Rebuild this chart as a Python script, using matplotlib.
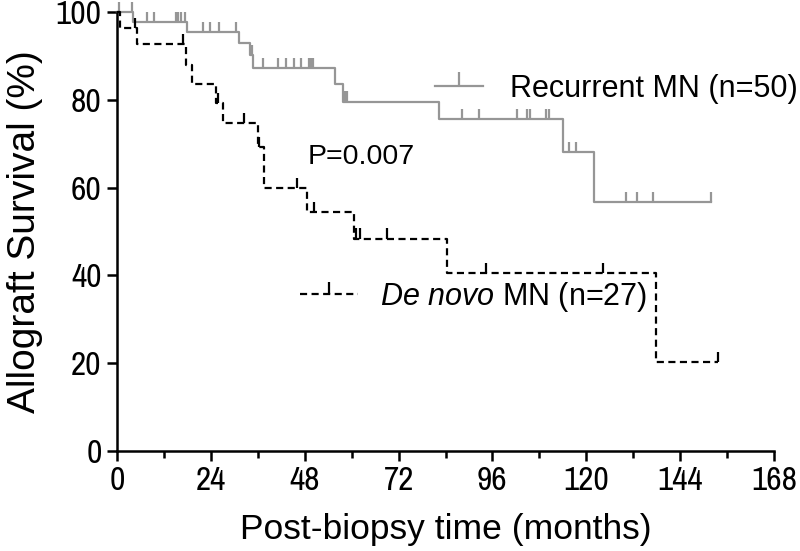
import numpy as np
import matplotlib
matplotlib.use("Agg")
import matplotlib.pyplot as plt
from matplotlib.lines import Line2D
from matplotlib.path import Path

plt.rcParams["font.family"] = ["Liberation Sans", "DejaVu Sans"]
plt.rcParams["mathtext.fontset"] = "custom"
plt.rcParams["mathtext.it"] = "Liberation Sans:italic"
plt.rcParams["mathtext.rm"] = "Liberation Sans"
narrow = ["Archivo Narrow", "Liberation Sans Narrow", "Liberation Sans"]

# Recurrent MN (n=50): event times (months) and survival (%) after each step
rec_times = [4.2, 17.8, 31.2, 34.0, 34.9, 55.8, 57.8, 82.4, 114.0, 122.0]
rec_levels = [97.8, 95.5, 92.9, 90.2, 87.2, 83.5, 79.6, 75.6, 68.1, 56.8]
rec_end = 152.0
rec_censor = [0.5, 3.8, 7.6, 9.5, 15.2, 15.7, 16.3, 17.5, 22.1, 23.9, 26.0, 30.4,
              34.4, 37.3, 41.2, 43.1, 45.3, 47.0, 49.2, 49.7, 50.2, 58.3, 58.7,
              88.3, 92.6, 102.4, 104.8, 105.6, 109.6, 110.5, 115.7, 117.4,
              130.1, 133.0, 137.1, 152.0]

# De novo MN (n=27)
dn_times = [0.8, 5.0, 17.6, 19.1, 25.4, 27.0, 36.1, 37.5, 48.5, 60.6, 84.5, 137.8]
dn_levels = [96.3, 92.6, 87.9, 83.7, 79.2, 74.8, 69.2, 59.9, 54.5, 48.4, 40.6, 20.3]
dn_end = 153.8
dn_censor = [4.6, 16.8, 25.7, 32.6, 36.4, 45.9, 50.4, 61.1, 62.2, 69.0, 94.3, 124.2, 153.8]

gray = "#969696"
tick_h = 2.3  # censor mark height in %


def km_steps(times, levels, end):
    t = np.concatenate([[0.0], times, [end]])
    s = np.concatenate([[100.0], levels, [levels[-1]]])
    return t, s


def level_at(t_c, times, levels):
    t = np.asarray(times)
    s = np.concatenate([[100.0], levels])
    idx = np.searchsorted(t, t_c, side="right")
    return s[idx]


fig = plt.figure(figsize=(8, 5.51), dpi=100)
ax = fig.add_axes([0.14625, 0.1815, 0.82125, 0.7967])

t, s = km_steps(rec_times, rec_levels, rec_end)
ax.step(t, s, where="post", color=gray, lw=1.6, clip_on=False)
lv = level_at(rec_censor, rec_times, rec_levels)
ax.vlines(rec_censor, lv, lv + tick_h, color=gray, lw=1.6, clip_on=False)

t, s = km_steps(dn_times, dn_levels, dn_end)
ax.step(t, s, where="post", color="black", lw=1.6, dashes=(3.2, 2.0), clip_on=False)
lv = level_at(dn_censor, dn_times, dn_levels)
ax.vlines(dn_censor, lv, lv + tick_h, color="black", lw=1.6, clip_on=False)

ax.set_xlim(0, 168)
ax.set_ylim(0, 100)
ax.set_xticks(np.arange(0, 169, 24))
ax.set_xticks(np.arange(12, 169, 24), minor=True)
ax.set_yticks(np.arange(0, 101, 20))
for sp in ["top", "right"]:
    ax.spines[sp].set_visible(False)
for sp in ["left", "bottom"]:
    ax.spines[sp].set_linewidth(1.8)
ax.tick_params(axis="both", which="major", direction="out", length=7, width=1.8, pad=4)
ax.tick_params(axis="x", which="minor", direction="out", length=5, width=1.8)
for lab in ax.get_xticklabels() + ax.get_yticklabels():
    lab.set_fontfamily(narrow)
    lab.set_fontsize(24)

ax.set_xlabel("Post-biopsy time (months)", fontsize=25.5, labelpad=12)
ax.set_ylabel("Allograft Survival (%)", fontsize=28, labelpad=9)

ax.text(48.8, 67.0, "P=0.007", fontsize=20.5, ha="left", va="center")

tick_marker = Path([(0, 0), (0, 1)], [Path.MOVETO, Path.LINETO])
h_rec = Line2D([], [], color=gray, lw=1.6, marker=tick_marker, markersize=20,
               markeredgewidth=1.6)
h_dn = Line2D([], [], color="black", lw=1.6, dashes=(3.2, 2.0), marker=tick_marker,
              markersize=18, markeredgewidth=1.6)
leg1 = ax.legend([h_rec], ["Recurrent MN (n=50)"], loc="center left",
                 bbox_to_anchor=(0.484, 0.8246), frameon=False, fontsize=22,
                 handlelength=1.57, handletextpad=0.88, numpoints=1,
                 borderaxespad=0, borderpad=0)
ax.add_artist(leg1)
ax.legend([h_dn], [r"$\it{De\ novo}$ MN (n=27)"], loc="center left",
          bbox_to_anchor=(0.2785, 0.351), frameon=False, fontsize=22,
          handlelength=1.9, handletextpad=0.72, numpoints=1,
          borderaxespad=0, borderpad=0)

fig.savefig("out.png", dpi=100)
